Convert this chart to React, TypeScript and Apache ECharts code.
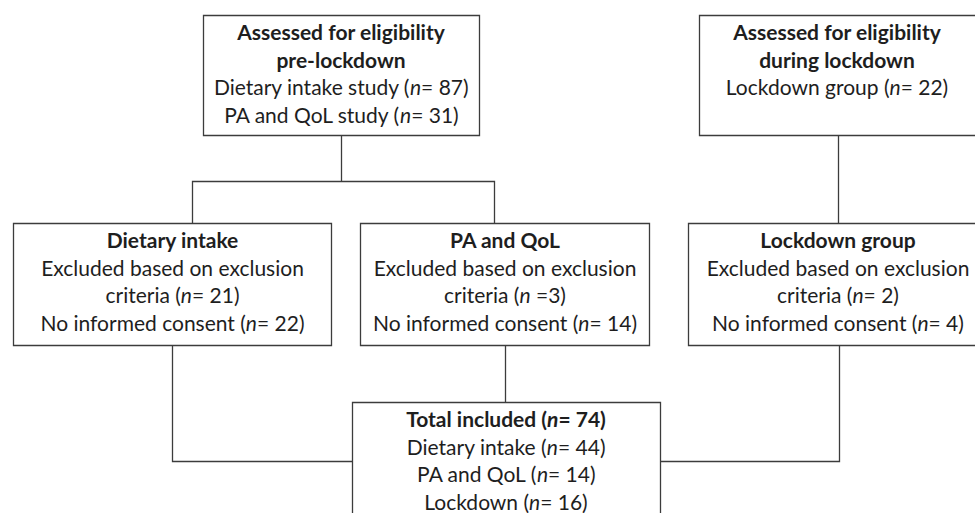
import React, { useEffect, useRef } from 'react';
import * as echarts from 'echarts';

const preLockdownStudies = ['Dietary intake study', 'PA and QoL study'];
const preLockdownN = [87, 31];
const duringLockdownGroups = ['Lockdown group'];
const duringLockdownN = [22];
const exclusionGroups = ['Dietary intake', 'PA and QoL', 'Lockdown group'];
const excludedCriteriaN = [21, 3, 2];
const excludedCriteriaSep = ['= ', ' =', '= '];
const noConsentN = [22, 14, 4];
const includedGroups = ['Dietary intake', 'PA and QoL', 'Lockdown'];
const includedN = [44, 14, 16];
const totalIncludedN = 74;

// ---- Styling / layout ----
const FONT = 'Lato';
const FS = 21;
const LH = 27.5;
const TEXT_OFF = 16.5;
const TEXT_COLOR = '#1e1e1e';
const LINE_COLOR = '#3c3c3c';
const LINE_W = 1.3;

type Seg = { t: string; it?: boolean };
type Line = { segs: Seg[]; bold?: boolean };

const plain = (t: string, bold = false): Line => ({ segs: [{ t }], bold });
const nLine = (label: string, n: number, sep = '= ', bold = false): Line => ({
  segs: [{ t: `${label} (` }, { t: 'n', it: true }, { t: `${sep}${n})` }],
  bold,
});

type Box = { x: number; y: number; w: number; h: number; cx: number; lines: Line[] };

const boxes: Box[] = [
  {
    x: 203, y: 15, w: 276, h: 120, cx: 341,
    lines: [
      plain('Assessed for eligibility', true),
      plain('pre-lockdown', true),
      ...preLockdownStudies.map((s, i) => nLine(s, preLockdownN[i])),
    ],
  },
  {
    x: 699, y: 15, w: 278, h: 120, cx: 837,
    lines: [
      plain('Assessed for eligibility', true),
      plain('during lockdown', true),
      ...duringLockdownGroups.map((s, i) => nLine(s, duringLockdownN[i])),
    ],
  },
  ...[
    { x: 13, w: 318, cx: 172.5 },
    { x: 360, w: 289, cx: 505 },
    { x: 688, w: 300, cx: 838 },
  ].map((g, i) => ({
    x: g.x, y: 223, w: g.w, h: 122, cx: g.cx,
    lines: [
      plain(exclusionGroups[i], true),
      plain('Excluded based on exclusion'),
      nLine('criteria', excludedCriteriaN[i], excludedCriteriaSep[i]),
      nLine('No informed consent', noConsentN[i]),
    ],
  })),
  {
    x: 352, y: 402, w: 308, h: 140, cx: 506,
    lines: [
      nLine('Total included', totalIncludedN, '= ', true),
      ...includedGroups.map((s, i) => nLine(s, includedN[i])),
    ],
  },
];

const connectors: number[][][] = [
  [[341.5, 135], [341.5, 181.5]],
  [[192.5, 223], [192.5, 181.5], [494.5, 181.5], [494.5, 223]],
  [[838.5, 135], [838.5, 223]],
  [[172.5, 345], [172.5, 461.5], [352, 461.5]],
  [[505.5, 345], [505.5, 402]],
  [[839.5, 345], [839.5, 461.5], [660, 461.5]],
];

const richStyles = {
  r: { fontFamily: FONT, fontSize: FS, fontWeight: 'normal', fill: TEXT_COLOR, align: 'center' },
  i: { fontFamily: FONT, fontSize: FS, fontWeight: 'normal', fontStyle: 'italic', fill: TEXT_COLOR, align: 'center' },
  b: { fontFamily: FONT, fontSize: FS, fontWeight: 'bold', fill: TEXT_COLOR, align: 'center' },
  bi: { fontFamily: FONT, fontSize: FS, fontWeight: 'bold', fontStyle: 'italic', fill: TEXT_COLOR, align: 'center' },
};

function lineToRich(line: Line): string {
  return line.segs
    .map((s) => {
      const key = s.it ? (line.bold ? 'bi' : 'i') : line.bold ? 'b' : 'r';
      return `{${key}|${s.t}}`;
    })
    .join('');
}

export default function App() {
  const ref = useRef<HTMLDivElement>(null);

  useEffect(() => {
    document.body.style.margin = '0';
    if (!ref.current) return;
    const chart = echarts.init(ref.current, undefined, { renderer: 'svg' });

    const elements: any[] = [];
    connectors.forEach((pts) => {
      elements.push({
        type: 'polyline',
        z: 1,
        shape: { points: pts },
        style: { stroke: LINE_COLOR, lineWidth: LINE_W, fill: 'none' },
      });
    });
    boxes.forEach((b) => {
      elements.push({
        type: 'rect',
        z: 2,
        shape: { x: b.x + 0.5, y: b.y + 0.5, width: b.w, height: b.h },
        style: { stroke: LINE_COLOR, lineWidth: LINE_W, fill: '#fff' },
      });
      b.lines.forEach((ln, i) => {
        elements.push({
          type: 'text',
          z: 3,
          x: b.cx,
          y: b.y + TEXT_OFF + i * LH,
          style: {
            text: lineToRich(ln),
            rich: richStyles,
            align: 'center',
            verticalAlign: 'middle',
            fill: TEXT_COLOR,
            font: `${ln.bold ? 'bold ' : ''}${FS}px ${FONT}`,
          },
        });
      });
    });

    chart.setOption({
      animation: false,
      backgroundColor: '#ffffff',
      graphic: { elements },
    });

    return () => chart.dispose();
  }, []);

  return <div ref={ref} style={{ width: 975, height: 513 }} />;
}
